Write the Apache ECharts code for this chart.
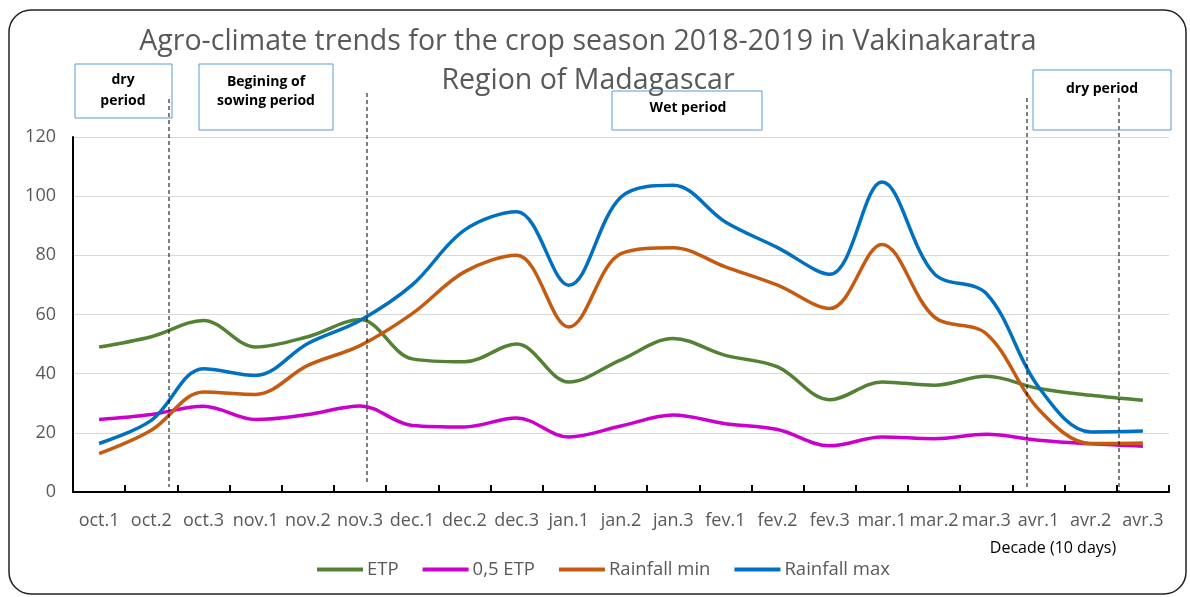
<!DOCTYPE html>
<html>
<head>
<meta charset="utf-8">
<script src="https://cdn.jsdelivr.net/npm/echarts@6/dist/echarts.min.js"></script>
<style>html,body{margin:0;padding:0;background:#fff;}#c{width:1190px;height:597px;}</style>
</head>
<body>
<div id="c"></div>
<script>
var categories = ['oct.1','oct.2','oct.3','nov.1','nov.2','nov.3','dec.1','dec.2','dec.3','jan.1','jan.2','jan.3','fev.1','fev.2','fev.3','mar.1','mar.2','mar.3','avr.1','avr.2','avr.3'];
var etp      = [49, 52.5, 58, 49, 52.5, 58.3, 45, 44, 50, 37.2, 44.7, 51.9, 46.2, 42.3, 31.2, 37.2, 36.1, 39.1, 35, 32.7, 31];
var halfEtp  = [24.5, 26.2, 29, 24.5, 26.2, 29.1, 22.5, 22, 25, 18.6, 22.3, 26, 23.1, 21.1, 15.6, 18.6, 18, 19.5, 17.5, 16.3, 15.5];
var rainMin  = [13, 20.9, 33.8, 33, 42.8, 49.5, 60.3, 74.4, 80, 55.8, 80.6, 82.6, 76.1, 69.9, 62, 83.7, 59.2, 53.5, 28, 16.4, 16.6];
var rainMax  = [16.4, 24.2, 41.7, 39.4, 50.2, 58, 70, 88.5, 94.7, 69.9, 99.7, 103.7, 91.3, 82.6, 73.6, 104.8, 73.8, 67.1, 35.5, 20.3, 20.6];
var yTicks   = {min: 0, max: 120, interval: 20};
var seriesNames = ['ETP', '0,5 ETP', 'Rainfall min', 'Rainfall max'];
var colors = ['#548235', '#cc00cc', '#c55a11', '#0070c0'];

var FONT = 'Open Sans';
var chart = echarts.init(document.getElementById('c'));

function box(x, y, w, h) {
  return {type: 'rect', shape: {x: x, y: y, width: w, height: h},
          style: {fill: 'rgba(0,0,0,0)', stroke: '#5b9bd5', lineWidth: 1}, z: 10};
}
function txt(x, y, s) {
  return {type: 'text', x: x, y: y,
          style: {text: s, fontFamily: FONT, fontSize: 14, fontWeight: 'bold', fill: '#000',
                  align: 'center', verticalAlign: 'middle'}, z: 11};
}
function dash(x, y1, y2) {
  return {type: 'line', shape: {x1: x, y1: y1, x2: x, y2: y2},
          style: {stroke: '#000', lineWidth: 1, lineDash: [4, 3]}, z: 9};
}

var data = [etp, halfEtp, rainMin, rainMax];
var series = data.map(function (d, i) {
  return {name: seriesNames[i], type: 'line', data: d, smooth: 0.35, symbol: 'none',
          lineStyle: {color: colors[i], width: 3.5}, itemStyle: {color: colors[i]}};
});

chart.setOption({
  animation: false,
  backgroundColor: '#fff',
  title: {
    text: 'Agro-climate trends for the crop season 2018-2019 in Vakinakaratra\nRegion of Madagascar',
    left: 583, top: 17, textAlign: 'center',
    textStyle: {fontFamily: FONT, fontSize: 28.5, fontWeight: 'normal', color: '#595959', lineHeight: 39}
  },
  legend: {
    data: seriesNames, left: 312, top: 555, icon: 'rect', itemWidth: 46, itemHeight: 4, itemGap: 24,
    textStyle: {fontFamily: FONT, fontSize: 18.5, color: '#595959', padding: [0, 0, 0, -1]}
  },
  grid: {left: 73, right: 21, top: 137, bottom: 105, containLabel: false},
  xAxis: {
    type: 'category', data: categories, boundaryGap: true,
    axisLine: {lineStyle: {color: '#000', width: 2}},
    axisTick: {show: true, inside: true, length: 7, interval: 0, lineStyle: {color: '#000', width: 2}},
    axisLabel: {interval: 0, fontFamily: FONT, fontSize: 18, color: '#595959', margin: 20, hideOverlap: false}
  },
  yAxis: {
    type: 'value', min: yTicks.min, max: yTicks.max, interval: yTicks.interval,
    axisLine: {show: true, lineStyle: {color: '#000', width: 2}},
    axisTick: {show: false},
    axisLabel: {fontFamily: FONT, fontSize: 18, color: '#595959', margin: 17},
    splitLine: {lineStyle: {color: '#d9d9d9', width: 1}}
  },
  graphic: [
    {type: 'rect', shape: {x: 9, y: 10, width: 1177, height: 584, r: 22},
     style: {fill: 'rgba(0,0,0,0)', stroke: '#222', lineWidth: 1.5}, z: 0, silent: true},
    box(75, 64, 97, 54), txt(123, 80, 'dry'), txt(123, 101, 'period'),
    box(199, 64, 134, 66), txt(266, 82, 'Begining of'), txt(266, 101, 'sowing period'),
    box(612, 91, 150, 39), txt(688, 108, 'Wet period'),
    box(1033, 70, 138, 60), txt(1102, 89, 'dry period'),
    dash(169, 99, 487), dash(367, 93, 482), dash(1027, 98, 487), dash(1119, 98, 491),
    {type: 'text', x: 1053, y: 548,
     style: {text: 'Decade (10 days)', fontFamily: FONT, fontSize: 16, fill: '#000',
             align: 'center', verticalAlign: 'middle'}, z: 11}
  ],
  series: series
});
</script>
</body>
</html>
